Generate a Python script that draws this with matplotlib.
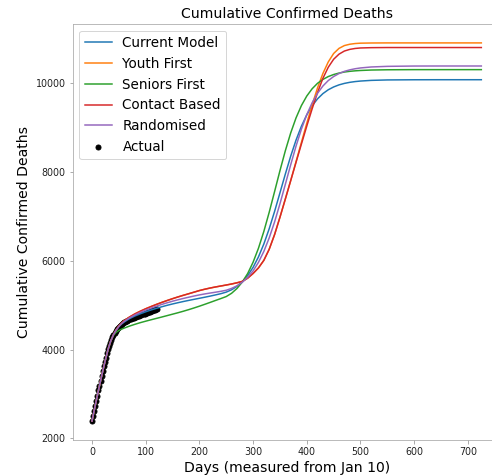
import matplotlib
matplotlib.use("Agg")
import matplotlib.pyplot as plt

days = [0, 5, 10, 15, 20, 25, 30, 35, 40, 45, 50, 55, 60,
        70, 80, 90, 100, 110, 120, 130, 140, 150, 160, 170, 180, 190, 200, 210, 220,
        230, 240, 250, 260, 270, 280, 290, 300, 310, 320, 330, 340, 350, 360, 370, 380,
        390, 400, 410, 420, 430, 440, 450, 460, 470, 480, 490, 500,
        520, 550, 600, 650, 725]

current_model = [2390, 2680, 2965, 3245, 3515, 3770, 4005, 4195, 4335, 4435, 4515, 4575, 4622,
                 4698, 4757, 4807, 4852, 4893, 4930, 4965, 4998, 5028, 5056, 5083, 5108, 5132,
                 5156, 5180, 5205, 5232, 5260, 5295, 5348, 5425, 5530, 5670, 5853, 6088, 6378,
                 6722, 7111, 7530, 7952, 8356, 8720, 9032, 9289, 9492, 9648, 9766, 9853, 9916,
                 9963, 9996, 10020, 10037, 10049,
                 10064, 10074, 10078, 10079, 10079]
youth_first = [2390, 2680, 2965, 3245, 3515, 3770, 4005, 4195, 4335, 4445, 4530, 4595, 4650,
               4735, 4805, 4865, 4920, 4970, 5018, 5063, 5106, 5147, 5186, 5223, 5258, 5294,
               5330, 5360, 5387, 5411, 5433, 5455, 5478, 5505, 5537, 5610, 5715, 5840, 6010,
               6260, 6590, 6980, 7390, 7805, 8235, 8670, 9100, 9515, 9895, 10220, 10480, 10670,
               10785, 10848, 10878, 10894, 10902,
               10906, 10908, 10908, 10908, 10908]
seniors_first = [2390, 2680, 2965, 3245, 3515, 3770, 4005, 4195, 4320, 4390, 4430, 4460, 4485,
                 4530, 4570, 4607, 4640, 4672, 4703, 4734, 4766, 4798, 4830, 4864, 4900, 4938,
                 4978, 5020, 5063, 5107, 5150, 5195, 5269, 5377, 5523, 5716, 5968, 6283, 6661,
                 7093, 7558, 8029, 8477, 8879, 9220, 9497, 9712, 9876, 9998, 10086, 10150, 10196,
                 10229, 10252, 10268, 10279, 10287,
                 10297, 10303, 10306, 10306, 10306]
contact_based = [2390, 2680, 2965, 3245, 3515, 3770, 4005, 4195, 4335, 4445, 4530, 4595, 4650,
                 4735, 4805, 4865, 4920, 4970, 5018, 5063, 5106, 5147, 5186, 5223, 5258, 5294,
                 5330, 5360, 5387, 5411, 5433, 5455, 5478, 5505, 5537, 5610, 5715, 5840, 6010,
                 6260, 6590, 6980, 7390, 7805, 8220, 8630, 9035, 9425, 9790, 10110, 10360, 10540,
                 10655, 10725, 10762, 10783, 10794,
                 10801, 10804, 10804, 10804, 10804]
randomised = [2390, 2680, 2965, 3245, 3515, 3770, 4005, 4195, 4335, 4440, 4522, 4585, 4635,
              4715, 4780, 4837, 4890, 4935, 4978, 5018, 5055, 5090, 5122, 5152, 5180, 5207,
              5232, 5254, 5274, 5293, 5313, 5337, 5379, 5437, 5518, 5628, 5774, 5966, 6211,
              6515, 6875, 7283, 7721, 8162, 8585, 8966, 9292, 9561, 9773, 9937, 10060, 10151,
              10218, 10267, 10301, 10326, 10344,
              10366, 10380, 10387, 10388, 10388]

actual_days = list(range(0, 123, 2))
actual = [2390, 2505, 2620, 2735, 2850, 2965, 3080, 3190, 3300, 3410, 3515, 3620, 3720, 3820,
          3915, 4005, 4085, 4160, 4225, 4285, 4335, 4380, 4420, 4455, 4485, 4510, 4535, 4558,
          4578, 4596, 4612, 4627, 4641, 4655, 4668, 4680, 4691, 4702, 4712, 4722, 4731, 4740,
          4749, 4758, 4767, 4776, 4785, 4794, 4803, 4812, 4821, 4830, 4839, 4848, 4857, 4866,
          4875, 4884, 4892, 4900, 4908, 4916]

series = [("Current Model", current_model), ("Youth First", youth_first),
          ("Seniors First", seniors_first), ("Contact Based", contact_based),
          ("Randomised", randomised)]

fig = plt.figure(figsize=(492 / 72, 476 / 72), dpi=72)
ax = fig.add_axes([72.5 / 492, 36 / 476, 428.3 / 492, 416 / 476])

for name, vals in series:
    ax.plot(days, vals, label=name, linewidth=1.5)
ax.scatter(actual_days, actual, color="black", s=25, label="Actual", zorder=1.5)

ax.set_title("Cumulative Confirmed Deaths", fontsize=14)
ax.set_xlabel("Days (measured from Jan 10)", fontsize=14)
ax.set_ylabel("Cumulative Confirmed Deaths", fontsize=14)
ax.tick_params(labelsize=9.5, color="#999999", labelcolor="#222222")
for s in ax.spines.values():
    s.set_color("#aaaaaa")
ax.legend(loc="upper left", fontsize=13.5)

fig.savefig("out.png", dpi=72)
